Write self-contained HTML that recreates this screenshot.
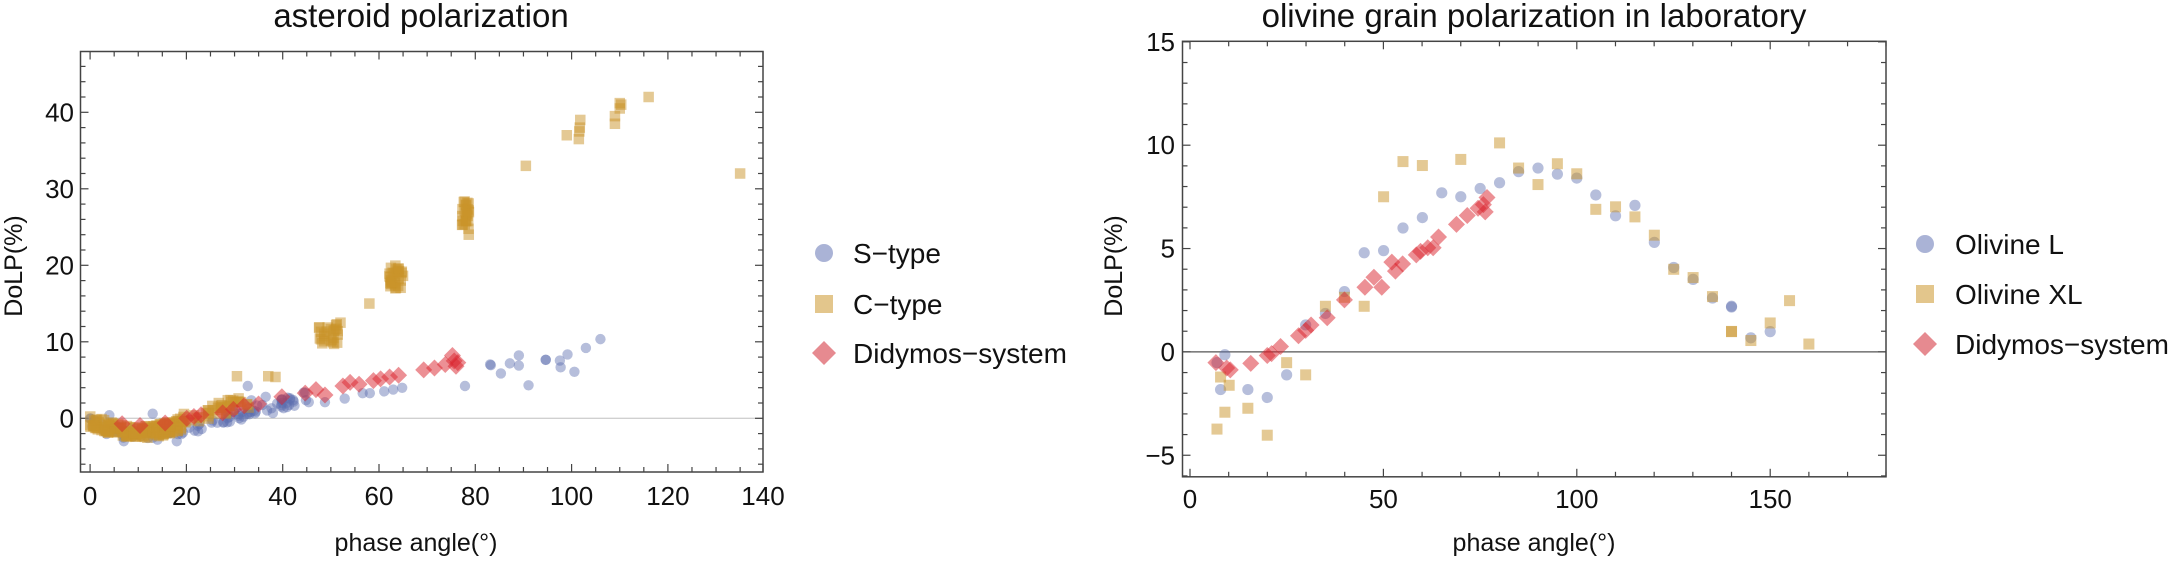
<!DOCTYPE html>
<html><head><meta charset="utf-8"><style>
html,body{margin:0;padding:0;background:#fff;}
svg{display:block;font-family:"Liberation Sans",sans-serif;}
</style></head><body>
<svg id="s" width="2170" height="563" viewBox="0 0 2170 563" xmlns="http://www.w3.org/2000/svg">
<text x="421" y="27" font-size="33" text-anchor="middle" fill="#111">asteroid polarization</text>
<text x="1534" y="27" font-size="33" text-anchor="middle" fill="#111">olivine grain polarization in laboratory</text>
<text x="416" y="551" font-size="25" text-anchor="middle" fill="#111">phase angle(°)</text>
<text x="1534" y="551" font-size="25" text-anchor="middle" fill="#111">phase angle(°)</text>
<text transform="translate(22,266) rotate(-90)" font-size="25" text-anchor="middle" fill="#111">DoLP(%)</text>
<text transform="translate(1122,266) rotate(-90)" font-size="25" text-anchor="middle" fill="#111">DoLP(%)</text>
<g id="L"></g><g id="R"></g>
<g font-size="28" fill="#111">
<circle cx="824" cy="253" r="9" fill="#aab3d6"/><text x="853" y="263">S−type</text>
<rect x="815" y="295" width="18" height="18" fill="#e3c68c"/><text x="853" y="314">C−type</text>
<polygon points="824,341 836,353 824,365 812,353" fill="#e68a90"/><text x="853" y="363">Didymos−system</text>
<circle cx="1925" cy="244" r="9" fill="#aab3d6"/><text x="1955" y="254">Olivine L</text>
<rect x="1916" y="285" width="18" height="18" fill="#e3c68c"/><text x="1955" y="304">Olivine XL</text>
<polygon points="1925,332 1937,344 1925,356 1913,344" fill="#e68a90"/><text x="1955" y="354">Didymos−system</text>
</g>
</svg>
<script>
var NS="http://www.w3.org/2000/svg";
function el(p,t,a){var e=document.createElementNS(NS,t);for(var k in a)e.setAttribute(k,a[k]);p.appendChild(e);return e;}
var seed=7;function rnd(){seed=(seed*16807)%2147483647;return seed/2147483647;}
var BLUE="#5e6fb0",GOLD="#c9942a",RED="#d9222c";
function circ(g,x,y,r){el(g,"circle",{cx:x,cy:y,r:r||5.2,fill:BLUE,"fill-opacity":0.45});}
function sq(g,x,y,s){s=s||10.5;el(g,"rect",{x:x-s/2,y:y-s/2,width:s,height:s,fill:GOLD,"fill-opacity":0.5});}
function dia(g,x,y,r){r=r||8.5;el(g,"polygon",{points:(x)+","+(y-r)+" "+(x+r)+","+y+" "+x+","+(y+r)+" "+(x-r)+","+y,fill:RED,"fill-opacity":0.5});}

function axes(g,o){
 var X=o.X,Y=o.Y;
 el(g,"line",{x1:o.l,x2:o.r,y1:Y(0),y2:Y(0),stroke:o.zc,"stroke-width":1.3});
 el(g,"rect",{x:o.l,y:o.t,width:o.r-o.l,height:o.b-o.t,fill:"none",stroke:"#444","stroke-width":1.5});
 for(var v=o.x0;v<=o.x1+1e-6;v+=o.xm){var x=X(v);if(x<o.l-3||x>o.r+3)continue;x=Math.min(Math.max(x,o.l),o.r);var maj=Math.abs(v/o.xM-Math.round(v/o.xM))<1e-6;var L=maj?8:5;
  el(g,"line",{x1:x,x2:x,y1:o.b,y2:o.b-L,stroke:"#444","stroke-width":1.2});el(g,"line",{x1:x,x2:x,y1:o.t,y2:o.t+L,stroke:"#444","stroke-width":1.2});
  if(maj){var t=el(g,"text",{x:x,y:o.xly,"font-size":26,"text-anchor":"middle",fill:"#111"});t.textContent=String(v).replace("-","−");}}
 for(var v=o.y0;v<=o.y1+1e-6;v+=o.ym){var y=Y(v);if(y<o.t-3||y>o.b+3)continue;y=Math.min(Math.max(y,o.t),o.b);var maj=Math.abs(v/o.yM-Math.round(v/o.yM))<1e-6;var L=maj?8:5;
  el(g,"line",{x1:o.l,x2:o.l+L,y1:y,y2:y,stroke:"#444","stroke-width":1.2});el(g,"line",{x1:o.r,x2:o.r-L,y1:y,y2:y,stroke:"#444","stroke-width":1.2});
  if(maj){var t=el(g,"text",{x:o.ylx,y:y+9,"font-size":26,"text-anchor":"end",fill:"#111"});t.textContent=String(v).replace("-","−");}}
}
// LEFT
var gL=document.getElementById("L");
var XL=function(v){return 90.1+4.815*v},YL=function(v){return 418.3-7.65*v};
axes(gL,{X:XL,Y:YL,l:80.5,r:763,t:51.5,b:472,x0:0,x1:140,xm:5,xM:20,y0:-6,y1:46,ym:2,yM:10,xly:505,ylx:74,zc:"#d0d0d0"});
for(var i=0;i<90;i++){var x=rnd()*45;var y;if(x<18)y=-1.6*Math.sin(Math.PI*x/22)-0.6;else y=-1.8+(x-18)*0.17;y+= (rnd()-0.5)*1.4;circ(gL,XL(x),YL(y));}
[[7,-3],[14,-2.8],[18,-3],[13,0.6],[4,0.4]].forEach(function(p){circ(gL,XL(p[0]),YL(p[1]));});
var z5c=[[700,1115],[740,1105],[760,1150],[820,1130],[860,1120],[905,1120],[960,1110],[1010,1095],[1030,1095],[1070,1090],[1095,1085],[1120,1080],[1295,1075],[1365,1015],[1367,1017],[1395,1040],[1420,1012],[1445,990],[1445,1018],[1472,1073],[1520,1002],[650,1130],[690,1075]];
z5c.forEach(function(p){circ(gL,p[0]/2.785,p[1]/2.785);});
var z4c=[[433,1058],[470,1060],[472,1080],[490,1042],[508,1093],[538,1023],[576,997]];
z4c.forEach(function(p){circ(gL,380+p[0]/2.613,p[1]/2.94);});
for(var i=0;i<170;i++){var x=rnd()*19;var y=-1.5*Math.sin(Math.PI*x/21)-0.3+(rnd()-0.5)*1.6;sq(gL,XL(x),YL(y));}
for(var i=0;i<45;i++){var x=18+rnd()*15;var y=(x-18)*0.17-0.3+(rnd()-0.5)*1.8;sq(gL,XL(x),YL(y));}
function clus(cx,cy,n,dx,dy){for(var i=0;i<n;i++)sq(gL,XL(cx+(rnd()-0.5)*dx),YL(cy+(rnd()-0.5)*dy));}
[[30.5,5.5],[37,5.5],[38.5,5.4],[58,15],[52,12.5]].forEach(function(p){sq(gL,XL(p[0]),YL(p[1]));});
clus(49.5,11,25,4,2.6);clus(63.5,18.5,30,3,3);clus(78,26.2,25,1.5,4.5);
[[90.5,33],[99,37],[101.5,36.5],[101.7,38],[101.8,39],[101.6,37.5],[109,38.5],[109,39.5],[110,40.5],[110,41.2],[110.3,41],[116,42],[135,32]].forEach(function(p){sq(gL,XL(p[0]),YL(p[1]));});
var dz=[[340,1180],[390,1185],[460,1178],[520,1165],[540,1160],[560,1155],[620,1150],[650,1140],[680,1130],[720,1125],[785,1105],[850,1095],[880,1085],[905,1100],[955,1075],[975,1065],[1000,1070],[1040,1060],[1060,1055],[1085,1050],[1110,1045],[1180,1030],[1210,1025],[1240,1015],[1265,1005],[1270,1020],[1260,990],[1275,1010]];
dz.forEach(function(p){dia(gL,p[0]/2.785,p[1]/2.785);});
// RIGHT
var gR=document.getElementById("R");
var XR=function(v){return 1190+3.868*v},YR=function(v){return 351.9-20.67*v};
axes(gR,{X:XR,Y:YR,l:1182.5,r:1886,t:41.3,b:476.8,x0:0,x1:180,xm:10,xM:50,y0:-6,y1:15,ym:1,yM:5,xly:508,ylx:1175,zc:"#555"});
var Z=function(p){return [1180+p[0]/2.785,p[1]/2.785];};
[[103,1010],[113,1085],[125,988],[189,1085],[243,1107],[297,1044],[350,905],[405,873],[458,812],[513,704],[567,698],[621,635],[675,606],[729,537],[782,548],[836,525],[890,509],[943,478],[997,468],[1051,485],[1105,496],[1158,543],[1213,601],[1267,572],[1321,675],[1375,745],[1429,778],[1483,830],[1536,853]].forEach(function(p){var q=Z(p);circ(gR,q[0],q[1],5.6);});
[[140,2.17],[145,0.68],[150,0.98]].forEach(function(p){circ(gR,XR(p[0]),YR(p[1]),5.6);});
[[103,1195],[113,1050],[125,1148],[137,1073],[189,1137],[243,1212],[297,1010],[350,1044],[405,853],[458,828],[513,853],[567,548],[621,450],[675,461],[782,444],[890,398],[943,468],[997,514],[1051,456],[1105,484],[1158,583],[1213,576],[1267,604],[1321,655],[1375,750],[1429,773],[1483,826],[1536,923]].forEach(function(p){var q=Z(p);sq(gR,q[0],q[1],11);});
[[140,0.98],[145,0.55],[150,1.4],[155,2.48],[160,0.38]].forEach(function(p){sq(gR,XR(p[0]),YR(p[1]),11);});
[[100,1010],[130,1025],[140,1030],[197,1012],[243,990],[255,985],[280,965],[330,935],[350,920],[365,905],[410,885],[458,835],[515,800],[540,772],[562,800],[590,730],[600,755],[620,735],[658,710],[670,700],[690,690],[705,690],[720,660],[770,625],[800,600],[830,580],[845,570],[855,550],[850,590]].forEach(function(p){var q=Z(p);dia(gR,q[0],q[1],8.5);});
</script>
</body></html>
